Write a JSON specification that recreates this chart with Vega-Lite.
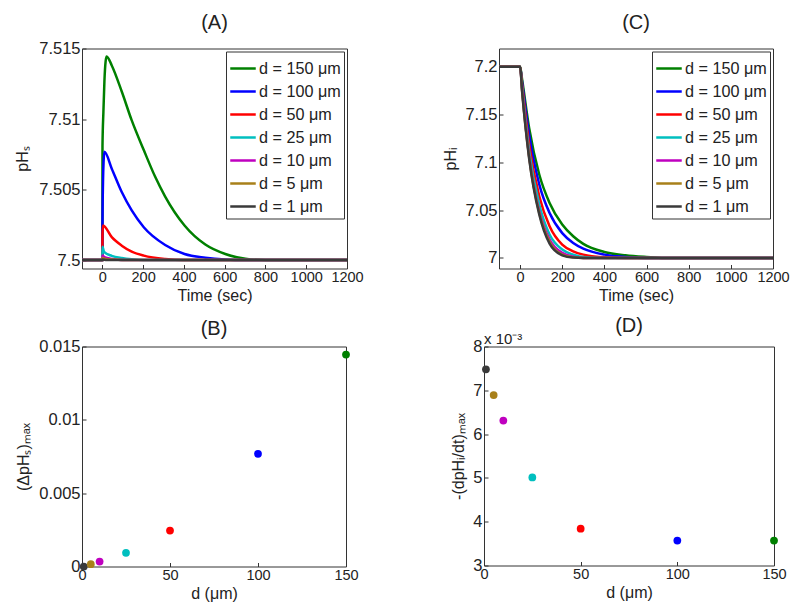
{
  "$schema": "https://vega.github.io/schema/vega-lite/v6.json",
  "padding": {"left": 13, "top": 12.5, "right": 5, "bottom": 5},
  "background": "white",
  "datasets": {
    "pHs": [
      {"d": "d = 150 μm", "t": -100, "v": 7.5}, {"d": "d = 150 μm", "t": 0, "v": 7.5}, {"d": "d = 150 μm", "t": 0.5, "v": 7.5081}, {"d": "d = 150 μm", "t": 5, "v": 7.5105}, {"d": "d = 150 μm", "t": 10, "v": 7.5127}, {"d": "d = 150 μm", "t": 16, "v": 7.5141}, {"d": "d = 150 μm", "t": 21, "v": 7.51444}, {"d": "d = 150 μm", "t": 46, "v": 7.5138}, {"d": "d = 150 μm", "t": 95, "v": 7.51195}, {"d": "d = 150 μm", "t": 144, "v": 7.5099}, {"d": "d = 150 μm", "t": 203, "v": 7.5078}, {"d": "d = 150 μm", "t": 259, "v": 7.5059}, {"d": "d = 150 μm", "t": 308, "v": 7.5045}, {"d": "d = 150 μm", "t": 403, "v": 7.50245}, {"d": "d = 150 μm", "t": 505, "v": 7.5011}, {"d": "d = 150 μm", "t": 603, "v": 7.50043}, {"d": "d = 150 μm", "t": 702, "v": 7.5001}, {"d": "d = 150 μm", "t": 800, "v": 7.5}, {"d": "d = 150 μm", "t": 1200, "v": 7.5},
      {"d": "d = 100 μm", "t": -100, "v": 7.5}, {"d": "d = 100 μm", "t": 0, "v": 7.5}, {"d": "d = 100 μm", "t": 0.5, "v": 7.5025}, {"d": "d = 100 μm", "t": 3, "v": 7.5055}, {"d": "d = 100 μm", "t": 6, "v": 7.507}, {"d": "d = 100 μm", "t": 10, "v": 7.50767}, {"d": "d = 100 μm", "t": 46, "v": 7.50648}, {"d": "d = 100 μm", "t": 95, "v": 7.50482}, {"d": "d = 100 μm", "t": 144, "v": 7.50352}, {"d": "d = 100 μm", "t": 203, "v": 7.50233}, {"d": "d = 100 μm", "t": 308, "v": 7.50107}, {"d": "d = 100 μm", "t": 403, "v": 7.50043}, {"d": "d = 100 μm", "t": 505, "v": 7.50017}, {"d": "d = 100 μm", "t": 603, "v": 7.50004}, {"d": "d = 100 μm", "t": 700, "v": 7.5}, {"d": "d = 100 μm", "t": 1200, "v": 7.5},
      {"d": "d = 50 μm", "t": -100, "v": 7.5}, {"d": "d = 50 μm", "t": 0, "v": 7.5}, {"d": "d = 50 μm", "t": 0.5, "v": 7.5018}, {"d": "d = 50 μm", "t": 3, "v": 7.50245}, {"d": "d = 50 μm", "t": 46, "v": 7.50162}, {"d": "d = 50 μm", "t": 95, "v": 7.50102}, {"d": "d = 50 μm", "t": 144, "v": 7.5006}, {"d": "d = 50 μm", "t": 203, "v": 7.50031}, {"d": "d = 50 μm", "t": 308, "v": 7.50007}, {"d": "d = 50 μm", "t": 400, "v": 7.5}, {"d": "d = 50 μm", "t": 1200, "v": 7.5},
      {"d": "d = 25 μm", "t": -100, "v": 7.5}, {"d": "d = 25 μm", "t": 0, "v": 7.5}, {"d": "d = 25 μm", "t": 0.5, "v": 7.50095}, {"d": "d = 25 μm", "t": 8, "v": 7.50058}, {"d": "d = 25 μm", "t": 46, "v": 7.5003}, {"d": "d = 25 μm", "t": 95, "v": 7.50014}, {"d": "d = 25 μm", "t": 144, "v": 7.50005}, {"d": "d = 25 μm", "t": 200, "v": 7.5}, {"d": "d = 25 μm", "t": 1200, "v": 7.5},
      {"d": "d = 10 μm", "t": -100, "v": 7.5}, {"d": "d = 10 μm", "t": 0, "v": 7.5}, {"d": "d = 10 μm", "t": 0.5, "v": 7.50033}, {"d": "d = 10 μm", "t": 10, "v": 7.5002}, {"d": "d = 10 μm", "t": 50, "v": 7.50008}, {"d": "d = 10 μm", "t": 100, "v": 7.5}, {"d": "d = 10 μm", "t": 1200, "v": 7.5},
      {"d": "d = 5 μm", "t": -100, "v": 7.5}, {"d": "d = 5 μm", "t": 0, "v": 7.5}, {"d": "d = 5 μm", "t": 0.5, "v": 7.50015}, {"d": "d = 5 μm", "t": 10, "v": 7.5001}, {"d": "d = 5 μm", "t": 50, "v": 7.50003}, {"d": "d = 5 μm", "t": 100, "v": 7.5}, {"d": "d = 5 μm", "t": 1200, "v": 7.5},
      {"d": "d = 1 μm", "t": -100, "v": 7.5}, {"d": "d = 1 μm", "t": 0, "v": 7.5}, {"d": "d = 1 μm", "t": 0.5, "v": 7.50003}, {"d": "d = 1 μm", "t": 20, "v": 7.5}, {"d": "d = 1 μm", "t": 1200, "v": 7.5}
    ],
    "pHi": [
      {"d": "d = 150 μm", "t": -100, "v": 7.2}, {"d": "d = 150 μm", "t": 0, "v": 7.2}, {"d": "d = 150 μm", "t": 10, "v": 7.186}, {"d": "d = 150 μm", "t": 43, "v": 7.136}, {"d": "d = 150 μm", "t": 91, "v": 7.0873}, {"d": "d = 150 μm", "t": 140, "v": 7.0576}, {"d": "d = 150 μm", "t": 200, "v": 7.035}, {"d": "d = 150 μm", "t": 252, "v": 7.0227}, {"d": "d = 150 μm", "t": 300, "v": 7.0147}, {"d": "d = 150 μm", "t": 400, "v": 7.0063}, {"d": "d = 150 μm", "t": 500, "v": 7.0028}, {"d": "d = 150 μm", "t": 600, "v": 7.001}, {"d": "d = 150 μm", "t": 685, "v": 7.0}, {"d": "d = 150 μm", "t": 1200, "v": 7.0},
      {"d": "d = 100 μm", "t": -100, "v": 7.2}, {"d": "d = 100 μm", "t": 0, "v": 7.2}, {"d": "d = 100 μm", "t": 10, "v": 7.183}, {"d": "d = 100 μm", "t": 43, "v": 7.129}, {"d": "d = 100 μm", "t": 91, "v": 7.077}, {"d": "d = 100 μm", "t": 140, "v": 7.047}, {"d": "d = 100 μm", "t": 200, "v": 7.026}, {"d": "d = 100 μm", "t": 252, "v": 7.0157}, {"d": "d = 100 μm", "t": 300, "v": 7.0098}, {"d": "d = 100 μm", "t": 400, "v": 7.0035}, {"d": "d = 100 μm", "t": 500, "v": 7.001}, {"d": "d = 100 μm", "t": 600, "v": 7.0}, {"d": "d = 100 μm", "t": 1200, "v": 7.0},
      {"d": "d = 50 μm", "t": -100, "v": 7.2}, {"d": "d = 50 μm", "t": 0, "v": 7.2}, {"d": "d = 50 μm", "t": 10, "v": 7.18}, {"d": "d = 50 μm", "t": 43, "v": 7.1187}, {"d": "d = 50 μm", "t": 91, "v": 7.0646}, {"d": "d = 50 μm", "t": 140, "v": 7.0332}, {"d": "d = 50 μm", "t": 200, "v": 7.014}, {"d": "d = 50 μm", "t": 252, "v": 7.007}, {"d": "d = 50 μm", "t": 300, "v": 7.0035}, {"d": "d = 50 μm", "t": 400, "v": 7.0007}, {"d": "d = 50 μm", "t": 500, "v": 7.0}, {"d": "d = 50 μm", "t": 1200, "v": 7.0},
      {"d": "d = 25 μm", "t": -100, "v": 7.2}, {"d": "d = 25 μm", "t": 0, "v": 7.2}, {"d": "d = 25 μm", "t": 10, "v": 7.177}, {"d": "d = 25 μm", "t": 43, "v": 7.1117}, {"d": "d = 25 μm", "t": 91, "v": 7.0559}, {"d": "d = 25 μm", "t": 140, "v": 7.0245}, {"d": "d = 25 μm", "t": 200, "v": 7.0088}, {"d": "d = 25 μm", "t": 252, "v": 7.0035}, {"d": "d = 25 μm", "t": 300, "v": 7.001}, {"d": "d = 25 μm", "t": 400, "v": 7.0}, {"d": "d = 25 μm", "t": 1200, "v": 7.0},
      {"d": "d = 10 μm", "t": -100, "v": 7.2}, {"d": "d = 10 μm", "t": 0, "v": 7.2}, {"d": "d = 10 μm", "t": 10, "v": 7.175}, {"d": "d = 10 μm", "t": 43, "v": 7.1065}, {"d": "d = 10 μm", "t": 91, "v": 7.0489}, {"d": "d = 10 μm", "t": 140, "v": 7.0193}, {"d": "d = 10 μm", "t": 200, "v": 7.0053}, {"d": "d = 10 μm", "t": 252, "v": 7.0014}, {"d": "d = 10 μm", "t": 300, "v": 7.0}, {"d": "d = 10 μm", "t": 1200, "v": 7.0},
      {"d": "d = 5 μm", "t": -100, "v": 7.2}, {"d": "d = 5 μm", "t": 0, "v": 7.2}, {"d": "d = 5 μm", "t": 10, "v": 7.174}, {"d": "d = 5 μm", "t": 43, "v": 7.1054}, {"d": "d = 5 μm", "t": 91, "v": 7.047}, {"d": "d = 5 μm", "t": 140, "v": 7.017}, {"d": "d = 5 μm", "t": 200, "v": 7.0035}, {"d": "d = 5 μm", "t": 252, "v": 7.0007}, {"d": "d = 5 μm", "t": 300, "v": 7.0}, {"d": "d = 5 μm", "t": 1200, "v": 7.0},
      {"d": "d = 1 μm", "t": -100, "v": 7.2}, {"d": "d = 1 μm", "t": 0, "v": 7.2}, {"d": "d = 1 μm", "t": 10, "v": 7.173}, {"d": "d = 1 μm", "t": 43, "v": 7.104}, {"d": "d = 1 μm", "t": 91, "v": 7.0454}, {"d": "d = 1 μm", "t": 140, "v": 7.015}, {"d": "d = 1 μm", "t": 200, "v": 7.0028}, {"d": "d = 1 μm", "t": 252, "v": 7.0004}, {"d": "d = 1 μm", "t": 300, "v": 7.0}, {"d": "d = 1 μm", "t": 1200, "v": 7.0}
    ],
    "peaks": [
      {"label": "d = 1 μm", "d": 1, "dpHs": 0.0, "rate": 0.00748},
      {"label": "d = 5 μm", "d": 5, "dpHs": 0.00016, "rate": 0.00689},
      {"label": "d = 10 μm", "d": 10, "dpHs": 0.00034, "rate": 0.00631},
      {"label": "d = 25 μm", "d": 25, "dpHs": 0.00093, "rate": 0.00501},
      {"label": "d = 50 μm", "d": 50, "dpHs": 0.00245, "rate": 0.00384},
      {"label": "d = 100 μm", "d": 100, "dpHs": 0.00768, "rate": 0.00357},
      {"label": "d = 150 μm", "d": 150, "dpHs": 0.01445, "rate": 0.00357}
    ],
    "note": [{"text": "x 10⁻³"}]
  },
  "config": {
    "font": "Liberation Sans",
    "view": {"stroke": "#333333", "strokeWidth": 1},
    "axis": {"domain": false, "grid": false, "labelFontSize": 15, "labelColor": "#222222", "titleFontSize": 16, "titleFontWeight": "normal", "titleColor": "#222222", "tickSize": -4, "labelPadding": 6, "tickColor": "#333333", "labelFont": "Liberation Sans", "titleFont": "Liberation Sans", "labelOverlap": false, "labelFlush": false},
    "axisX": {"labelFontSize": 14.5},
    "axisY": {"labelFontSize": 16.5},
    "title": {"fontSize": 20, "fontWeight": "normal", "font": "Liberation Sans", "color": "#222222", "frame": "group"},
    "legend": {"orient": "top-right", "offset": 3, "strokeColor": "#333333", "fillColor": "white", "padding": 3, "symbolType": "stroke", "symbolStrokeWidth": 2.5, "symbolSize": 650, "labelFontSize": 16.2, "labelOffset": 2, "labelColor": "#222222", "labelFont": "Liberation Sans", "rowPadding": -7}
  },
  "vconcat": [
    {
      "hconcat": [
        {
          "title": {"text": "(A)", "offset": 7.5},
          "width": 265, "height": 220,
          "data": {"name": "pHs"},
          "mark": {"type": "line", "strokeWidth": 2.5, "interpolate": "monotone", "clip": true},
          "encoding": {
            "x": {"field": "t", "type": "quantitative", "scale": {"domain": [-100, 1200], "nice": false, "zero": false}, "axis": {"values": [0, 200, 400, 600, 800, 1000, 1200], "format": "d", "title": "Time (sec)", "titlePadding": 3}},
            "y": {"field": "v", "type": "quantitative", "scale": {"domain": [7.4994, 7.515], "nice": false, "zero": false}, "axis": {"values": [7.5, 7.505, 7.51, 7.515], "format": ".3~f", "title": "pHₛ", "titlePadding": 8.5}},
            "color": {"field": "d", "type": "nominal", "title": null, "scale": {"domain": ["d = 150 μm", "d = 100 μm", "d = 50 μm", "d = 25 μm", "d = 10 μm", "d = 5 μm", "d = 1 μm"], "range": ["#008000", "#0000ff", "#ff0000", "#00bfbf", "#bf00bf", "#a8801a", "#3a3a3a"]}}
          }
        },
        {
          "title": {"text": "(C)", "offset": 15.5},
          "width": 274, "height": 220,
          "data": {"name": "pHi"},
          "mark": {"type": "line", "strokeWidth": 2.5, "interpolate": "monotone", "clip": true},
          "encoding": {
            "x": {"field": "t", "type": "quantitative", "scale": {"domain": [-100, 1200], "nice": false, "zero": false}, "axis": {"values": [0, 200, 400, 600, 800, 1000, 1200], "format": "d", "title": "Time (sec)", "titlePadding": 3}},
            "y": {"field": "v", "type": "quantitative", "scale": {"domain": [6.989, 7.219], "nice": false, "zero": false}, "axis": {"values": [7.0, 7.05, 7.1, 7.15, 7.2], "format": ".2~f", "title": "pHᵢ", "titlePadding": 6}},
            "color": {"field": "d", "type": "nominal", "title": null, "scale": {"domain": ["d = 150 μm", "d = 100 μm", "d = 50 μm", "d = 25 μm", "d = 10 μm", "d = 5 μm", "d = 1 μm"], "range": ["#008000", "#0000ff", "#ff0000", "#00bfbf", "#bf00bf", "#a8801a", "#3a3a3a"]}}
          }
        }
      ],
      "spacing": 78,
      "resolve": {"scale": {"color": "independent"}, "legend": {"color": "independent"}}
    },
    {
      "hconcat": [
        {
          "title": {"text": "(B)", "offset": 0},
          "width": 264, "height": 220,
          "data": {"name": "peaks"},
          "mark": {"type": "point", "filled": true, "size": 60, "opacity": 1},
          "encoding": {
            "x": {"field": "d", "type": "quantitative", "scale": {"domain": [0, 150], "nice": false}, "axis": {"values": [0, 50, 100, 150], "title": "d (μm)", "titlePadding": 3}},
            "y": {"field": "dpHs", "type": "quantitative", "scale": {"domain": [0, 0.015], "nice": false}, "axis": {"values": [0, 0.005, 0.01, 0.015], "format": ".3~f", "title": "(ΔpHₛ)ₘₐₓ", "titlePadding": 7}},
            "color": {"field": "label", "type": "nominal", "legend": null, "scale": {"domain": ["d = 150 μm", "d = 100 μm", "d = 50 μm", "d = 25 μm", "d = 10 μm", "d = 5 μm", "d = 1 μm"], "range": ["#008000", "#0000ff", "#ff0000", "#00bfbf", "#bf00bf", "#a8801a", "#3a3a3a"]}}
          }
        },
        {
          "title": {"text": "(D)", "offset": -4},
          "width": 290, "height": 219,
          "layer": [
            {
              "data": {"name": "peaks"},
              "mark": {"type": "point", "filled": true, "size": 60, "opacity": 1},
              "encoding": {
                "x": {"field": "d", "type": "quantitative", "scale": {"domain": [0, 150], "nice": false}, "axis": {"values": [0, 50, 100, 150], "title": "d (μm)", "titlePadding": 3}},
                "y": {"field": "rate", "type": "quantitative", "scale": {"domain": [0.003, 0.008], "nice": false, "zero": false}, "axis": {"values": [0.003, 0.004, 0.005, 0.006, 0.007, 0.008], "labelExpr": "format(datum.value * 1000, '.0f')", "title": "-(dpHᵢ/dt)ₘₐₓ", "titlePadding": 6}},
                "color": {"field": "label", "type": "nominal", "legend": null, "scale": {"domain": ["d = 150 μm", "d = 100 μm", "d = 50 μm", "d = 25 μm", "d = 10 μm", "d = 5 μm", "d = 1 μm"], "range": ["#008000", "#0000ff", "#ff0000", "#00bfbf", "#bf00bf", "#a8801a", "#3a3a3a"]}}
              }
            },
            {
              "data": {"name": "note"},
              "mark": {"type": "text", "align": "left", "baseline": "alphabetic", "fontSize": 15, "dy": -3, "color": "#222222", "font": "Liberation Sans"},
              "encoding": {
                "text": {"field": "text"},
                "x": {"datum": 0},
                "y": {"datum": 0.008}
              }
            }
          ]
        }
      ],
      "spacing": 91
    }
  ],
  "spacing": 11
}
